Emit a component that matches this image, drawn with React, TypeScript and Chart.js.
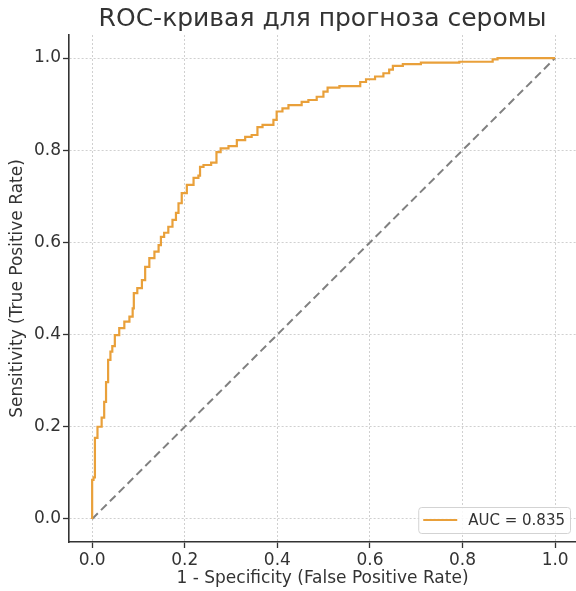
import React, { useEffect, useRef } from "react";
import { Chart, registerables } from "chart.js";

Chart.register(...registerables);

const TITLE = "ROC-кривая для прогноза серомы";
const X_LABEL = "1 - Specificity (False Positive Rate)";
const Y_LABEL = "Sensitivity (True Positive Rate)";
const ROC_LABEL = "AUC = 0.835";

const TICKS = [0, 0.2, 0.4, 0.6, 0.8, 1.0];

const FPR = [
  0, 0, 0.006, 0.006, 0.017, 0.024, 0.028, 0.032, 0.037, 0.042,
  0.045, 0.053, 0.064, 0.075, 0.086, 0.089, 0.091, 0.104, 0.111, 0.118,
  0.129, 0.14, 0.147, 0.15, 0.161, 0.168, 0.179, 0.183, 0.19, 0.197,
  0.212, 0.226, 0.233, 0.233, 0.248, 0.266, 0.271, 0.284, 0.305, 0.32,
  0.341, 0.348, 0.366, 0.37, 0.388, 0.395, 0.402, 0.42, 0.428, 0.449,
  0.456, 0.478, 0.492, 0.507, 0.51, 0.532, 0.536, 0.575, 0.583, 0.6,
  0.622, 0.636, 0.647, 0.652, 0.69, 0.73, 0.856, 0.874, 0.877, 1.0,
];
const TPR = [
  0, 0.085, 0.09, 0.176, 0.2, 0.22, 0.254, 0.297, 0.345, 0.363,
  0.375, 0.399, 0.414, 0.428, 0.439, 0.457, 0.49, 0.501, 0.518, 0.547,
  0.566, 0.58, 0.594, 0.612, 0.621, 0.634, 0.649, 0.664, 0.685, 0.707,
  0.725, 0.74, 0.745, 0.764, 0.768, 0.773, 0.796, 0.804, 0.809, 0.822,
  0.829, 0.833, 0.85, 0.855, 0.855, 0.866, 0.884, 0.891, 0.898, 0.898,
  0.905, 0.909, 0.916, 0.927, 0.936, 0.936, 0.939, 0.939, 0.948, 0.954,
  0.96, 0.967, 0.975, 0.983, 0.987, 0.99, 0.992, 0.997, 1.0, 1.0,
];

const CHANCE_X = [0, 1];
const CHANCE_Y = [0, 1];

const ORANGE = "rgb(233,160,58)";
const TEXT = "#333333";
const FONT = "'DejaVu Sans', sans-serif";

const boxLegend = {
  id: "boxLegend",
  afterDraw(chart: any) {
    const { ctx, chartArea } = chart;
    const ds = chart.data.datasets[0];
    const fontSize = 15;
    ctx.save();
    ctx.font = `${fontSize}px ${FONT}`;
    const tw = ctx.measureText(ds.label).width;
    const pad = 5, lineLen = 34, gap = 11, h = 26;
    const w = pad + lineLen + gap + tw + pad;
    const right = chartArea.right - 6;
    const bottom = chartArea.bottom - 9;
    const left = right - w;
    const top = bottom - h;
    ctx.beginPath();
    ctx.roundRect(left + 0.5, top + 0.5, w, h, 3);
    ctx.fillStyle = "rgba(255,255,255,0.85)";
    ctx.fill();
    ctx.strokeStyle = "#d3d3d3";
    ctx.lineWidth = 1;
    ctx.stroke();
    const cy = top + h / 2;
    ctx.beginPath();
    ctx.moveTo(left + pad, cy);
    ctx.lineTo(left + pad + lineLen, cy);
    ctx.strokeStyle = ds.borderColor;
    ctx.lineWidth = 2.2;
    ctx.stroke();
    ctx.fillStyle = TEXT;
    ctx.textBaseline = "middle";
    ctx.textAlign = "left";
    ctx.fillText(ds.label, left + pad + lineLen + gap, cy + 1);
    ctx.restore();
  },
};

export default function App() {
  const ref = useRef<HTMLCanvasElement | null>(null);

  useEffect(() => {
    if (!ref.current) return;
    const rocData = FPR.map((x, i) => ({ x, y: TPR[i] }));
    const chanceData = CHANCE_X.map((x, i) => ({ x, y: CHANCE_Y[i] }));
    const setTicks = (scale: any) => {
      scale.ticks = TICKS.map((v) => ({ value: v }));
    };
    const gridOpts = {
      color: "rgba(170,170,170,0.55)",
      lineWidth: 1,
      drawTicks: true,
      tickLength: 6,
      tickColor: "#333",
      tickWidth: 1.3,
    };
    const chart = new Chart(ref.current, {
      type: "line",
      data: {
        datasets: [
          {
            label: ROC_LABEL,
            data: rocData,
            borderColor: ORANGE,
            borderWidth: 2.2,
            pointRadius: 0,
            tension: 0,
            stepped: "middle",
            fill: false,
          },
          {
            label: "chance",
            data: chanceData,
            borderColor: "#808080",
            borderWidth: 2,
            borderDash: [8, 4.5],
            pointRadius: 0,
            fill: false,
          },
        ],
      },
      options: {
        responsive: false,
        animation: false,
        layout: { padding: 0 },
        plugins: {
          legend: { display: false },
          tooltip: { enabled: false },
          title: {
            display: true,
            text: TITLE,
            fullSize: false,
            color: TEXT,
            font: { family: FONT, size: 25, weight: "normal", lineHeight: 1.2 },
            padding: { top: 4, bottom: 1 },
          },
        },
        scales: {
          x: {
            type: "linear",
            min: -0.05,
            max: 1.045,
            afterBuildTicks: setTicks,
            afterFit: (s: any) => {
              s.height = 49;
            },
            grid: gridOpts,
            border: { display: true, color: "#333", width: 1.6, dash: [2, 2] },
            ticks: {
              color: TEXT,
              padding: 2,
              maxRotation: 0,
              font: { family: FONT, size: 17 },
              callback: (v: any) => Number(v).toFixed(1),
            },
            title: {
              display: true,
              text: X_LABEL,
              color: TEXT,
              font: { family: FONT, size: 17, lineHeight: 1.2 },
              padding: { top: 0, bottom: 2 },
            },
          },
          y: {
            type: "linear",
            min: -0.05,
            max: 1.05,
            afterBuildTicks: setTicks,
            afterFit: (s: any) => {
              s.width = 69;
            },
            grid: gridOpts,
            border: { display: true, color: "#333", width: 1.6, dash: [2, 2] },
            ticks: {
              color: TEXT,
              padding: 2,
              font: { family: FONT, size: 17 },
              callback: (v: any) => Number(v).toFixed(1),
            },
            title: {
              display: true,
              text: Y_LABEL,
              color: TEXT,
              font: { family: FONT, size: 17, lineHeight: 1.2 },
              padding: { top: 7, bottom: 0 },
            },
          },
        },
      },
      plugins: [boxLegend],
    });
    return () => chart.destroy();
  }, []);

  return (
    <div style={{ position: "absolute", left: 0, top: 0, width: 576, height: 591, background: "#fff" }}>
      <canvas ref={ref} width={576} height={591} />
    </div>
  );
}
